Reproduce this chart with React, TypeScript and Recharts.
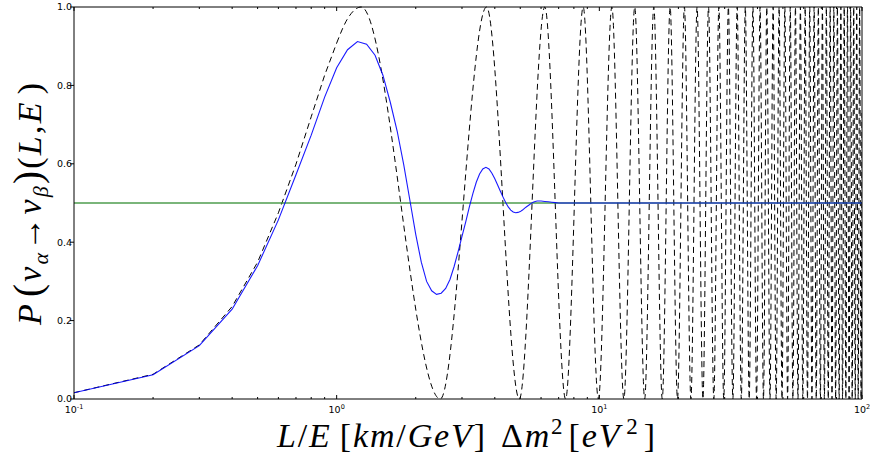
import { LineChart, Line, XAxis, YAxis } from "recharts";

// oscillation probability vs L/E, log x axis
const lowX = [0.1, 0.2, 0.3, 0.4, 0.5, 0.6, 0.7, 0.8, 0.9, 1.0];
const lowP = [0.016, 0.063, 0.138, 0.236, 0.349, 0.475, 0.599, 0.72, 0.826, 0.908];

// turning points of the unsmeared curve (max 1 / min 0)
const turnX = [
  1.0, 1.1,
  1.24, 2.48, 3.72, 4.96, 6.2, 7.44, 8.68, 9.92, 11.16, 12.4,
  13.64, 14.88, 16.12, 17.36, 18.6, 19.84, 21.08, 22.32, 23.56, 24.8,
  26.04, 27.28, 28.52, 29.76, 31, 32.24, 33.48, 34.72, 35.96, 37.2,
  38.44, 39.68, 40.92, 42.16, 43.4, 44.64, 45.88, 47.12, 48.36, 49.6,
  50.84, 52.08, 53.32, 54.56, 55.8, 57.04, 58.28, 59.52, 60.76, 62,
  63.24, 64.48, 65.72, 66.96, 68.2, 69.44, 70.68, 71.92, 73.16, 74.4,
  75.64, 76.88, 78.12, 79.36, 80.6, 81.84, 83.08, 84.32, 85.56, 86.8,
  88.04, 89.28, 90.52, 91.76, 93, 94.24, 95.48, 96.72, 97.96, 99.2, 100,
];
const turnP = [
  0.908, 0.97,
  1, 0, 1, 0, 1, 0, 1, 0, 1, 0,
  1, 0, 1, 0, 1, 0, 1, 0, 1, 0,
  1, 0, 1, 0, 1, 0, 1, 0, 1, 0,
  1, 0, 1, 0, 1, 0, 1, 0, 1, 0,
  1, 0, 1, 0, 1, 0, 1, 0, 1, 0,
  1, 0, 1, 0, 1, 0, 1, 0, 1, 0,
  1, 0, 1, 0, 1, 0, 1, 0, 1, 0,
  1, 0, 1, 0, 1, 0, 1, 0, 1, 0, 0.73,
];

// energy-averaged probability
const avgX = [
  0.1, 0.2, 0.3, 0.4, 0.5, 0.6, 0.7, 0.8, 0.9, 1.0,
  1.1, 1.2, 1.3, 1.4, 1.5, 1.6, 1.7, 1.8, 1.9, 2.0,
  2.1, 2.2, 2.3, 2.4, 2.5, 2.6, 2.7, 2.8, 2.9, 3.0,
  3.1, 3.2, 3.3, 3.4, 3.5, 3.6, 3.7, 3.8, 3.9, 4.0,
  4.1, 4.2, 4.3, 4.4, 4.5, 4.6, 4.7, 4.8, 4.9, 5.0,
  5.1, 5.2, 5.3, 5.4, 5.5, 5.6, 5.7, 5.8, 5.9, 6.0,
  6.2, 6.4, 6.6, 6.8, 7, 8, 10, 20, 50, 100,
];
const avgP = [
  0.016, 0.062, 0.136, 0.229, 0.34, 0.457, 0.572, 0.673, 0.77, 0.845,
  0.891, 0.912, 0.905, 0.877, 0.826, 0.757, 0.683, 0.598, 0.507, 0.42,
  0.349, 0.3, 0.276, 0.267, 0.27, 0.282, 0.305, 0.338, 0.376, 0.415,
  0.452, 0.49, 0.524, 0.553, 0.574, 0.587, 0.591, 0.587, 0.576, 0.562,
  0.546, 0.53, 0.515, 0.501, 0.49, 0.482, 0.477, 0.475, 0.476, 0.478,
  0.482, 0.487, 0.491, 0.495, 0.499, 0.502, 0.504, 0.505, 0.505, 0.505,
  0.504, 0.503, 0.502, 0.501, 0.5, 0.5, 0.5, 0.5, 0.5, 0.5,
];

const limitX = [0.1, 100];
const limitP = [0.5, 0.5];

const majorX = [0.1, 1, 10, 100];
const majorExp = ["-1", "0", "1", "2"];
const minorX = [
  0.2, 0.3, 0.4, 0.5, 0.6, 0.7, 0.8, 0.9,
  2, 3, 4, 5, 6, 7, 8, 9,
  20, 30, 40, 50, 60, 70, 80, 90,
];
const yTicks = [0, 0.2, 0.4, 0.6, 0.8, 1.0];

const lowData = lowX.map((x, i) => ({ x, y: lowP[i] }));
const waveData = turnX.map((x, i) => ({ x, y: turnP[i] }));
const avgData = avgX.map((x, i) => ({ x, y: avgP[i] }));
const limitData = limitX.map((x, i) => ({ x, y: limitP[i] }));
const xTicks = [...majorX, ...minorX].sort((a, b) => a - b);

const SANS = "'DejaVu Sans', sans-serif";
const SERIF = "'Liberation Serif', 'DejaVu Serif', serif";

// plot box edges
const LEFT = 74;
const TOP = 7;
const RIGHT = 862;
const BOTTOM = 399;

const BottomTick = ({ x, payload }: any) => {
  const idx = majorX.indexOf(payload.value);
  const major = idx >= 0;
  return (
    <g>
      <line x1={x} x2={x} y1={BOTTOM} y2={BOTTOM - (major ? 4 : 2)} stroke="#000" strokeWidth={1} />
      {major && (
        <text x={x} y={BOTTOM + 14} textAnchor="middle" fontSize={9.5} fontFamily={SANS} fill="#000">
          10
          <tspan fontSize={6.5} dy={-4.5}>
            {majorExp[idx]}
          </tspan>
        </text>
      )}
    </g>
  );
};

const TopTick = ({ x, payload }: any) => {
  const major = majorX.includes(payload.value);
  return <line x1={x} x2={x} y1={TOP} y2={TOP + (major ? 4 : 2)} stroke="#000" strokeWidth={1} />;
};

const LeftTick = ({ y, payload }: any) => (
  <g>
    <line x1={LEFT} x2={LEFT - 4} y1={y} y2={y} stroke="#000" strokeWidth={1} />
    <text x={LEFT - 2} y={y} dy="0.35em" textAnchor="end" fontSize={9.5} fontFamily={SANS} fill="#000">
      {payload.value.toFixed(1)}
    </text>
  </g>
);

const RightTick = ({ y }: any) => (
  <line x1={RIGHT} x2={RIGHT + 4} y1={y} y2={y} stroke="#000" strokeWidth={1} />
);

export default function App() {
  return (
    <div style={{ position: "absolute", left: 0, top: 0, width: 870, height: 458, background: "#fff" }}>
      <LineChart width={870} height={458} margin={{ top: 2, right: 3, bottom: 29, left: 44 }}>
        <XAxis
          dataKey="x"
          type="number"
          scale="log"
          domain={[0.1, 100]}
          allowDataOverflow
          ticks={xTicks}
          interval={0}
          height={30}
          tickLine={false}
          tick={<BottomTick />}
          axisLine={{ stroke: "#000", strokeWidth: 1 }}
        />
        <XAxis
          xAxisId="top"
          orientation="top"
          dataKey="x"
          type="number"
          scale="log"
          domain={[0.1, 100]}
          allowDataOverflow
          ticks={xTicks}
          interval={0}
          height={5}
          tickLine={false}
          tick={<TopTick />}
          axisLine={{ stroke: "#000", strokeWidth: 1 }}
        />
        <YAxis
          type="number"
          domain={[0, 1]}
          ticks={yTicks}
          interval={0}
          width={30}
          tickLine={false}
          tick={<LeftTick />}
          axisLine={{ stroke: "#000", strokeWidth: 1 }}
        />
        <YAxis
          yAxisId="right"
          orientation="right"
          type="number"
          domain={[0, 1]}
          ticks={yTicks}
          interval={0}
          width={5}
          tickLine={false}
          tick={<RightTick />}
          axisLine={{ stroke: "#000", strokeWidth: 1 }}
        />
        {/* rising part sampled every 0.1, then the fast oscillation */}
        <Line
          data={lowData}
          dataKey="y"
          type="linear"
          stroke="#000"
          strokeWidth={1}
          strokeDasharray="6 4"
          dot={false}
          activeDot={false}
          isAnimationActive={false}
        />
        <Line
          data={waveData}
          dataKey="y"
          type="monotone"
          stroke="#000"
          strokeWidth={1}
          strokeDasharray="6 4"
          dot={false}
          activeDot={false}
          isAnimationActive={false}
        />
        <Line
          data={limitData}
          dataKey="y"
          type="linear"
          stroke="#2e8b2e"
          strokeWidth={1.3}
          strokeOpacity={0.85}
          dot={false}
          activeDot={false}
          isAnimationActive={false}
        />
        <Line
          data={avgData}
          dataKey="y"
          type="linear"
          stroke="#0000ff"
          strokeWidth={1.1}
          strokeOpacity={0.9}
          dot={false}
          activeDot={false}
          isAnimationActive={false}
        />
      </LineChart>
      <svg
        width={870}
        height={458}
        style={{ position: "absolute", left: 0, top: 0, pointerEvents: "none" }}
      >
        <text
          x={466}
          y={447}
          textAnchor="middle"
          fontSize={34}
          fontFamily={SERIF}
          fill="#000"
          textLength={378}
          lengthAdjust="spacing"
        >
          <tspan fontStyle="italic">L</tspan>
          <tspan>/</tspan>
          <tspan fontStyle="italic">E</tspan>
          <tspan dx={8}>[</tspan>
          <tspan fontStyle="italic">km</tspan>
          <tspan>/</tspan>
          <tspan fontStyle="italic">GeV</tspan>
          <tspan>]</tspan>
          <tspan dx={14}>Δ</tspan>
          <tspan fontStyle="italic">m</tspan>
          <tspan fontSize={23} dy={-13}>2</tspan>
          <tspan dy={13} dx={4}>[</tspan>
          <tspan fontStyle="italic">eV</tspan>
          <tspan fontSize={23} dy={-13} dx={5}>2</tspan>
          <tspan dy={13} dx={4}>]</tspan>
        </text>
        <text
          transform="translate(41,204) rotate(-90)"
          textAnchor="middle"
          fontSize={34}
          fontFamily={SERIF}
          fill="#000"
          textLength={242}
          lengthAdjust="spacing"
        >
          <tspan fontStyle="italic">P</tspan>
          <tspan dx={5} fontSize={39}>(</tspan>
          <tspan fontStyle="italic">ν</tspan>
          <tspan fontStyle="italic" fontSize={22} dy={7}>α</tspan>
          <tspan dy={-7}>→</tspan>
          <tspan fontStyle="italic">ν</tspan>
          <tspan fontStyle="italic" fontSize={22} dy={7}>β</tspan>
          <tspan dy={-7} fontSize={39}>)</tspan>
          <tspan>(</tspan>
          <tspan fontStyle="italic">L</tspan>
          <tspan>,</tspan>
          <tspan fontStyle="italic">E</tspan>
          <tspan dx={6}>)</tspan>
        </text>
      </svg>
    </div>
  );
}
